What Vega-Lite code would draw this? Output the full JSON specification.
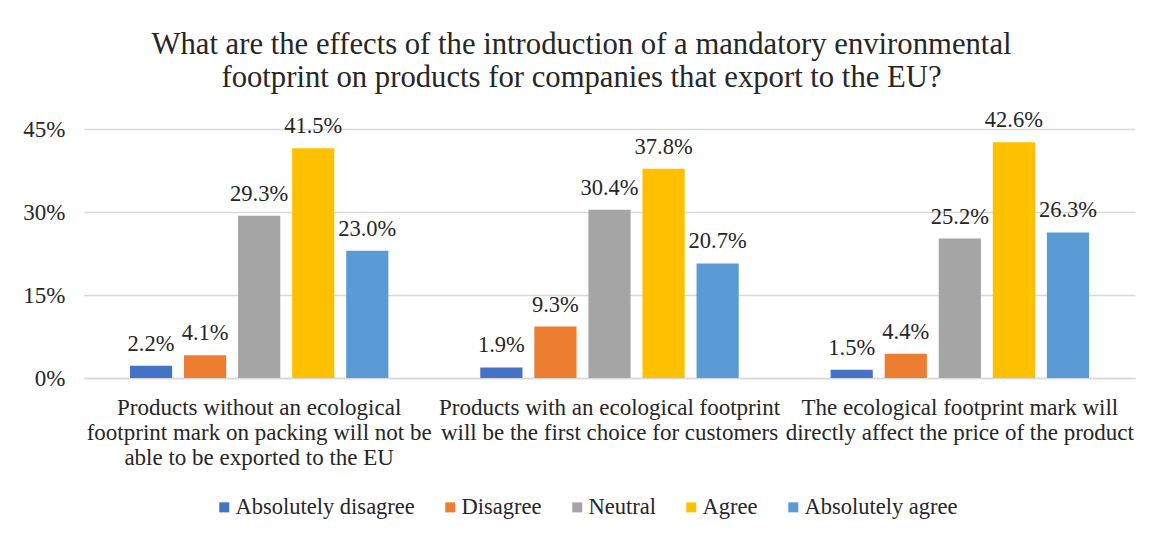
{
  "$schema": "https://vega.github.io/schema/vega-lite/v6.json",
  "width": 1051,
  "height": 249,
  "autosize": {"type": "none"},
  "padding": {"left": 84, "top": 129, "right": 17, "bottom": 160},
  "background": "white",
  "config": {"font": "Times New Roman", "view": {"stroke": null}},
  "title": {
    "text": ["What are the effects of the introduction of a mandatory environmental", "footprint on products for companies that export to the EU?"],
    "font": "Times New Roman",
    "fontSize": 30.7,
    "fontWeight": "normal",
    "color": "#262626",
    "anchor": "middle",
    "offset": 16,
    "lineHeight": 33,
    "dx": -28
  },
  "data": {
    "values": [
      {"statement": "Products without an ecological|footprint mark on packing will not be|able to be exported to the EU", "response": "Absolutely disagree", "share": 0.022},
      {"statement": "Products without an ecological|footprint mark on packing will not be|able to be exported to the EU", "response": "Disagree", "share": 0.041},
      {"statement": "Products without an ecological|footprint mark on packing will not be|able to be exported to the EU", "response": "Neutral", "share": 0.293},
      {"statement": "Products without an ecological|footprint mark on packing will not be|able to be exported to the EU", "response": "Agree", "share": 0.415},
      {"statement": "Products without an ecological|footprint mark on packing will not be|able to be exported to the EU", "response": "Absolutely agree", "share": 0.230},
      {"statement": "Products with an ecological footprint|will be the first choice for customers", "response": "Absolutely disagree", "share": 0.019},
      {"statement": "Products with an ecological footprint|will be the first choice for customers", "response": "Disagree", "share": 0.093},
      {"statement": "Products with an ecological footprint|will be the first choice for customers", "response": "Neutral", "share": 0.304},
      {"statement": "Products with an ecological footprint|will be the first choice for customers", "response": "Agree", "share": 0.378},
      {"statement": "Products with an ecological footprint|will be the first choice for customers", "response": "Absolutely agree", "share": 0.207},
      {"statement": "The ecological footprint mark will|directly affect the price of the product", "response": "Absolutely disagree", "share": 0.015},
      {"statement": "The ecological footprint mark will|directly affect the price of the product", "response": "Disagree", "share": 0.044},
      {"statement": "The ecological footprint mark will|directly affect the price of the product", "response": "Neutral", "share": 0.252},
      {"statement": "The ecological footprint mark will|directly affect the price of the product", "response": "Agree", "share": 0.426},
      {"statement": "The ecological footprint mark will|directly affect the price of the product", "response": "Absolutely agree", "share": 0.263}
    ]
  },
  "encoding": {
    "x": {
      "field": "statement",
      "type": "nominal",
      "sort": null,
      "scale": {"paddingInner": 0, "paddingOuter": 0},
      "axis": {
        "title": null,
        "labelAngle": 0,
        "labelExpr": "split(datum.label, '|')",
        "labelFont": "Times New Roman",
        "labelFontSize": 23,
        "labelColor": "#262626",
        "labelLineHeight": 25,
        "labelPadding": 18,
        "labelLimit": 0,
        "ticks": false,
        "domainColor": "#d9d9d9",
        "domainWidth": 1.5
      }
    },
    "xOffset": {
      "field": "response",
      "type": "nominal",
      "sort": ["Absolutely disagree", "Disagree", "Neutral", "Agree", "Absolutely agree"],
      "scale": {"paddingInner": 0.22, "paddingOuter": 0.85}
    },
    "y": {
      "field": "share",
      "type": "quantitative",
      "scale": {"domain": [0, 0.45]},
      "axis": {
        "title": null,
        "values": [0, 0.15, 0.3, 0.45],
        "format": ".0%",
        "labelFont": "Times New Roman",
        "labelFontSize": 23,
        "labelColor": "#262626",
        "labelPadding": 19,
        "ticks": false,
        "domain": false,
        "gridColor": "#d9d9d9",
        "gridWidth": 1.5
      }
    }
  },
  "layer": [
    {
      "mark": {"type": "bar"},
      "encoding": {
        "color": {
          "field": "response",
          "type": "nominal",
          "sort": ["Absolutely disagree", "Disagree", "Neutral", "Agree", "Absolutely agree"],
          "scale": {
            "domain": ["Absolutely disagree", "Disagree", "Neutral", "Agree", "Absolutely agree"],
            "range": ["#4472C4", "#ED7D31", "#A5A5A5", "#FFC000", "#5B9BD5"]
          },
          "legend": {
            "title": null,
            "orient": "none",
            "direction": "horizontal",
            "legendX": 129,
            "legendY": 367,
            "symbolType": "square",
            "symbolSize": 100,
            "symbolStrokeWidth": 0,
            "labelFont": "Times New Roman",
            "labelFontSize": 22.5,
            "labelColor": "#262626",
            "labelOffset": 0,
            "columnPadding": 24,
            "labelLimit": 0
          }
        }
      }
    },
    {
      "mark": {"type": "text", "baseline": "alphabetic", "dy": -15, "font": "Times New Roman", "fontSize": 22.5, "color": "#262626"},
      "encoding": {
        "text": {"field": "share", "type": "quantitative", "format": ".1%"}
      }
    }
  ]
}
